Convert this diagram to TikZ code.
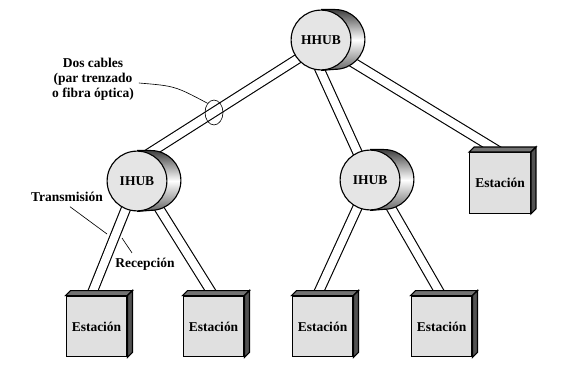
\documentclass[tikz,border=0pt]{standalone}
\usepackage{fontspec}
\setmainfont{Liberation Serif}
\usetikzlibrary{calc,backgrounds,shapes.geometric}
\begin{document}
\begin{tikzpicture}[x=0.025cm,y=-0.025cm,
  every node/.style={font=\fontsize{9.6}{10.6}\selectfont\bfseries},
  hub/.style={draw,circle,fill=black!10,line width=0.8pt,minimum size=42.5pt,inner sep=0pt},
  station/.style={draw,rectangle,fill=black!12,line width=0.8pt,minimum size=43.2pt,inner sep=0pt},
  cable/.style={draw=black,line width=0.8pt,double=white,double distance=5.8pt},
  leader/.style={line width=0.45pt}]
\useasboundingbox (0,0) rectangle (563,372);
\node[hub] (hh) at (321,40) {HHUB};
\node[hub] (ih1) at (137,181) {IHUB};
\node[hub] (ih2) at (370,180) {IHUB};
\foreach \st/\x/\y in {st1/96.5/326.5,st2/213.5/326.5,st3/322.5/326.5,st4/441.5/326.5,st5/500/183}{
  \node[station] (\st) at (\x,\y) {Estación};
  \draw[line width=0.8pt,fill=black!55] (\st.north west) -- ++(5,-5) -- ($(\st.north east)+(5,-5)$) -- (\st.north east) -- cycle;
  \draw[line width=0.8pt,fill=black!68] (\st.north east) -- ++(5,-5) -- ($(\st.south east)+(5,-5)$) -- (\st.south east) -- cycle;
}
\begin{pgfonlayer}{background}
\draw[cable] ($(hh.center)+(0,4)$) -- ($(ih1.center)+(0,-20)$);
\draw[cable] ($(hh.center)+(-12,6)$) -- (ih2.center);
\draw[cable] ($(hh.center)+(0,3)$) -- (st5.north);
\draw[cable] (ih1.center) -- (st1.100);
\draw[cable] ($(ih1.center)+(5,0)$) -- (st2.north);
\draw[cable] (ih2.center) -- (st3.100);
\draw[cable] ($(ih2.center)+(5,0)$) -- (st4.north);
\foreach \hub in {hh,ih1,ih2}{
  \shade[top color=black!75,bottom color=black!60,middle color=white] (\hub.north) -- ++(14,0) arc[start angle=90,end angle=-90,radius=21.25pt] -- (\hub.south) -- cycle;
  \draw[line width=0.8pt] (\hub.north) -- ++(14,0) arc[start angle=90,end angle=-90,radius=21.25pt] -- (\hub.south);
}
\end{pgfonlayer}
\node[align=center] (dos) at (93,79) {Dos cables\\(par trenzado\\o fibra óptica)};
\node[draw,ellipse,line width=0.45pt,minimum width=12.8pt,minimum height=17.7pt,inner sep=0pt] (lazo) at (214,112.5) {};
\draw[leader] ($(dos.east)+(0,4)$) .. controls (175,86) .. (lazo.125);
\node (tx) at (67,197) {Transmisión};
\coordinate (txend) at (107,234);
\draw[leader] ($(tx.south)+(3,0)$) -- (txend);
\node (rx) at (145,264) {Recepción};
\coordinate (rxend) at (122,238);
\draw[leader] ($(rx.north)+(-13,0)$) -- (rxend);
\end{tikzpicture}
\end{document}
